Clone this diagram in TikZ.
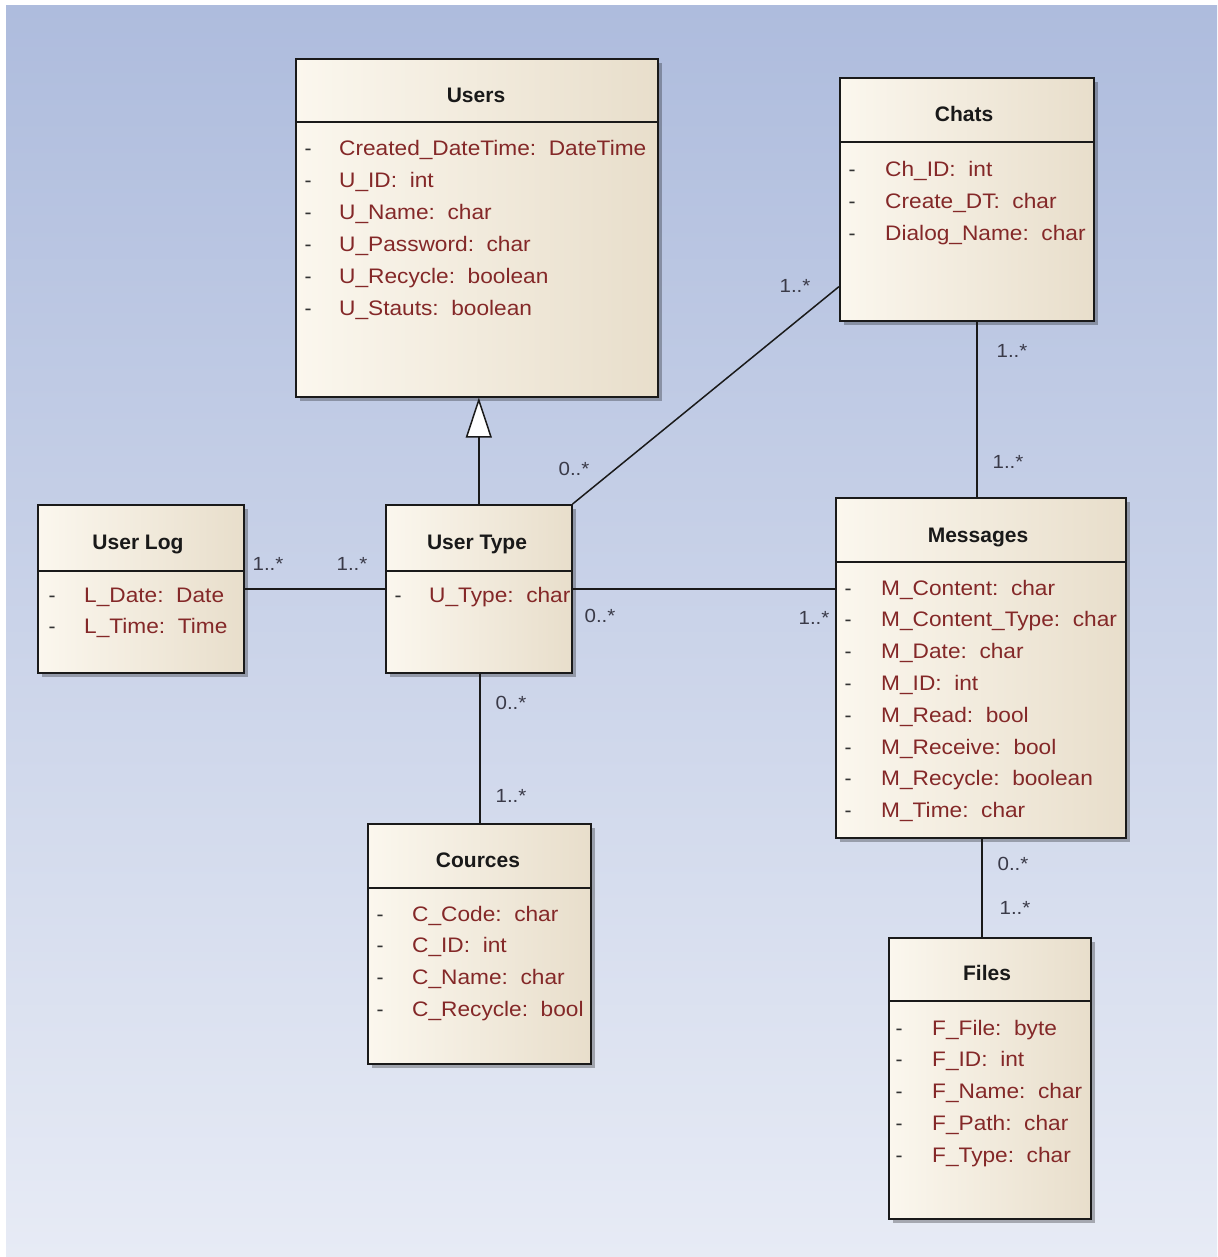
\documentclass[tikz,border=0pt]{standalone}
\usepackage{fontspec}
\setmainfont{Liberation Sans}
\newfontfamily\attrfont{Liberation Sans}[FakeStretch=1.08]
\usetikzlibrary{arrows.meta,shadows}
\definecolor{bgtop}{HTML}{AEBCDD}
\definecolor{bgbot}{HTML}{E7EBF5}
\definecolor{boxl}{HTML}{FBF7EE}
\definecolor{boxr}{HTML}{E8DECB}
\definecolor{attrc}{HTML}{842828}
\definecolor{multc}{HTML}{3A3A48}
\definecolor{linec}{HTML}{1A1A1A}
\tikzset{
  cls/.style={anchor=north west, draw=linec, line width=1.6pt, inner sep=0pt,
    left color=boxl, right color=boxr,
    drop shadow={shadow xshift=4pt, shadow yshift=-4pt, opacity=0.28, fill=black}},
  sepline/.style={draw=linec, line width=1.6pt},
  titletxt/.style={anchor=base, inner sep=0pt, font=\fontsize{21}{21}\selectfont\bfseries, text=black!90},
  attrtxt/.style={anchor=base west, inner sep=0pt, font=\fontsize{21}{21}\attrfont, text=attrc},
  dashtxt/.style={anchor=base, inner sep=0pt, font=\fontsize{21}{21}\selectfont, text=black!80},
  multtxt/.style={anchor=base, inner sep=0pt, font=\fontsize{19}{19}\attrfont, text=multc},
  conn/.style={draw=linec, line width=1.5pt},
}
\newcommand\classattrs[5]{%
  \foreach \t [count=\i] in {#5} {
    \node[dashtxt] (#1d\i) at (#2,{#4+8+31.8*(\i-1)}) {-};
    \node[attrtxt] (#1a\i) at (#3,{#4+8+31.8*(\i-1)}) {\t};
  }}
\begin{document}
\begin{tikzpicture}[x=1pt,y=-1pt]
\useasboundingbox (0,0) rectangle (1217,1257);
\fill[white] (0,0) rectangle (1217,1257);
\shade[top color=bgtop, bottom color=bgbot] (6,6) rectangle (1217,1257);

% class boxes
\node[cls, minimum width=362pt, minimum height=338pt] (users) at (295,58) {};
\node[cls, minimum width=254pt, minimum height=243pt] (chats) at (839,77) {};
\node[cls, minimum width=206pt, minimum height=168pt] (userlog) at (37,504) {};
\node[cls, minimum width=186pt, minimum height=168pt] (usertype) at (385,504) {};
\node[cls, minimum width=290pt, minimum height=340pt] (messages) at (835,497) {};
\node[cls, minimum width=223pt, minimum height=240pt] (cources) at (367,823) {};
\node[cls, minimum width=202pt, minimum height=281pt] (files) at (888,937) {};

% header separators
\draw[sepline] (users.west |- 0,122) -- (users.east |- 0,122);
\draw[sepline] (chats.west |- 0,142) -- (chats.east |- 0,142);
\draw[sepline] (userlog.west |- 0,571) -- (userlog.east |- 0,571);
\draw[sepline] (usertype.west |- 0,571) -- (usertype.east |- 0,571);
\draw[sepline] (messages.west |- 0,562) -- (messages.east |- 0,562);
\draw[sepline] (cources.west |- 0,888) -- (cources.east |- 0,888);
\draw[sepline] (files.west |- 0,1001) -- (files.east |- 0,1001);

% titles
\node[titletxt] (users-t) at (476,103) {Users};
\node[titletxt] (chats-t) at (964,122) {Chats};
\node[titletxt] (userlog-t) at (138,549) {User Log};
\node[titletxt] (usertype-t) at (477,549) {User Type};
\node[titletxt] (messages-t) at (978,542) {Messages};
\node[titletxt] (cources-t) at (478,867) {Cources};
\node[titletxt] (files-t) at (987,980) {Files};

% attributes
\classattrs{u}{308}{339}{148}{Created\_DateTime:\ \ DateTime, U\_ID:\ \ int, U\_Name:\ \ char, U\_Password:\ \ char, U\_Recycle:\ \ boolean, U\_Stauts:\ \ boolean}
\classattrs{c}{852}{885}{169}{Ch\_ID:\ \ int, Create\_DT:\ \ char, Dialog\_Name:\ \ char}
\classattrs{l}{52}{84}{594}{L\_Date:\ \ Date, L\_Time:\ \ Time}
\classattrs{t}{398}{429}{594}{U\_Type:\ \ char}
\classattrs{m}{848}{881}{587}{M\_Content:\ \ char, M\_Content\_Type:\ \ char, M\_Date:\ \ char, M\_ID:\ \ int, M\_Read:\ \ bool, M\_Receive:\ \ bool, M\_Recycle:\ \ boolean, M\_Time:\ \ char}
\classattrs{k}{380}{412}{913}{C\_Code:\ \ char, C\_ID:\ \ int, C\_Name:\ \ char, C\_Recycle:\ \ bool}
\classattrs{f}{899}{932}{1027}{F\_File:\ \ byte, F\_ID:\ \ int, F\_Name:\ \ char, F\_Path:\ \ char, F\_Type:\ \ char}

% connectors
\draw[conn, -{Triangle[fill=white, width=26pt, length=40pt]}] (usertype.north) -- (usertype.north |- users.south);
\draw[conn] (userlog.east) -- (usertype.east -| usertype.west);
\draw[conn] (usertype.east) -- (usertype.east -| messages.west);
\draw[conn] (usertype.north east) -- ([yshift=35pt]chats.south west);
\draw[conn] (messages.north -| 977,0) -- (chats.south -| 977,0);
\draw[conn] (usertype.south -| 480,0) -- (cources.north -| 480,0);
\draw[conn] (messages.south -| 982,0) -- (files.north -| 982,0);

% multiplicities
\node[multtxt] (m1) at (268,570) {1..*};
\node[multtxt] (m2) at (352,570) {1..*};
\node[multtxt] (m3) at (600,622) {0..*};
\node[multtxt] (m4) at (814,624) {1..*};
\node[multtxt] (m5) at (574,475) {0..*};
\node[multtxt] (m6) at (795,292) {1..*};
\node[multtxt] (m7) at (1012,357) {1..*};
\node[multtxt] (m8) at (1008,468) {1..*};
\node[multtxt] (m9) at (511,709) {0..*};
\node[multtxt] (m10) at (511,802) {1..*};
\node[multtxt] (m11) at (1013,870) {0..*};
\node[multtxt] (m12) at (1015,914) {1..*};
\end{tikzpicture}
\end{document}
